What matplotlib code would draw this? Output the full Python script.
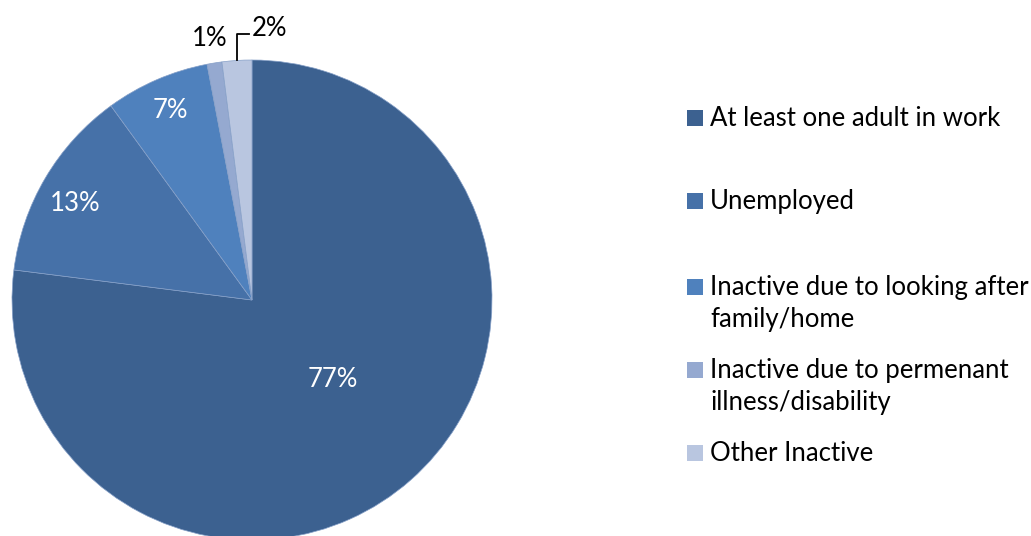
import numpy as np
import matplotlib
matplotlib.use("Agg")
import matplotlib.pyplot as plt
from matplotlib.patches import Rectangle

categories = [
    "At least one adult in work",
    "Unemployed",
    "Inactive due to looking after\nfamily/home",
    "Inactive due to permenant\nillness/disability",
    "Other Inactive",
]
shares = [77, 13, 7, 1, 2]
pct_labels = ["77%", "13%", "7%", "1%", "2%"]
colors = ["#3C6190", "#4671A8", "#4F81BD", "#95A9D0", "#B9C6E0"]

plt.rcParams["font.family"] = ["Lato", "DejaVu Sans"]
FS = 18.5

W, H = 1031, 536
fig = plt.figure(figsize=(W / 100, H / 100), dpi=100)

# pie: centre (252, 300) px, radius 240 px
cx, cy, r = 252, 300, 240
ax = fig.add_axes([(cx - r) / W, (H - cy - r) / H, 2 * r / W, 2 * r / H])
wedges, _ = ax.pie(shares, colors=colors, startangle=90, counterclock=False,
                   radius=1.0, wedgeprops=dict(edgecolor="#86A0C8", linewidth=0.5))
ax.set_xlim(-1, 1)
ax.set_ylim(-1, 1)
ax.set_aspect("equal")
ax.axis("off")

# label positions: (radial distance, angle offset) per slice
inside = [(0.47, 4.0), (0.84, 2.0), (0.86, 0.0)]
for w, lab, (d, off) in zip(wedges[:3], pct_labels[:3], inside):
    ang = np.deg2rad((w.theta1 + w.theta2) / 2 + off)
    ax.text(d * np.cos(ang), d * np.sin(ang), lab, color="white", fontsize=FS,
            ha="center", va="center")

# 1% outside label
ax.text(-42 / r, 262 / r, pct_labels[3], fontsize=FS, ha="center", va="center",
        clip_on=False)

# 2% with leader line
w = wedges[4]
ang = np.deg2rad((w.theta1 + w.theta2) / 2)
x0, y0 = np.cos(ang), np.sin(ang)
ax.plot([x0, x0, x0 + 12 / r], [y0, 266 / r, 266 / r], color="black",
        linewidth=1.3, clip_on=False)
ax.text(x0 + 15 / r, 272 / r, pct_labels[4], fontsize=FS, ha="left", va="center",
        clip_on=False)

# legend, drawn by hand to keep the uneven spacing (baselines in px)
legend_base = [126, 209, 295, 378, 461]
line_step = 32
for cat, col, yb in zip(categories, colors, legend_base):
    fig.patches.append(Rectangle((687 / W, 1 - yb / H), 16 / W, 16 / H,
                                 transform=fig.transFigure, facecolor=col,
                                 edgecolor="none"))
    for k, line in enumerate(cat.split("\n")):
        fig.text(710 / W, 1 - (yb + k * line_step) / H, line, fontsize=FS,
                 ha="left", va="baseline", transform=fig.transFigure)

fig.savefig("out.png", dpi=100)
